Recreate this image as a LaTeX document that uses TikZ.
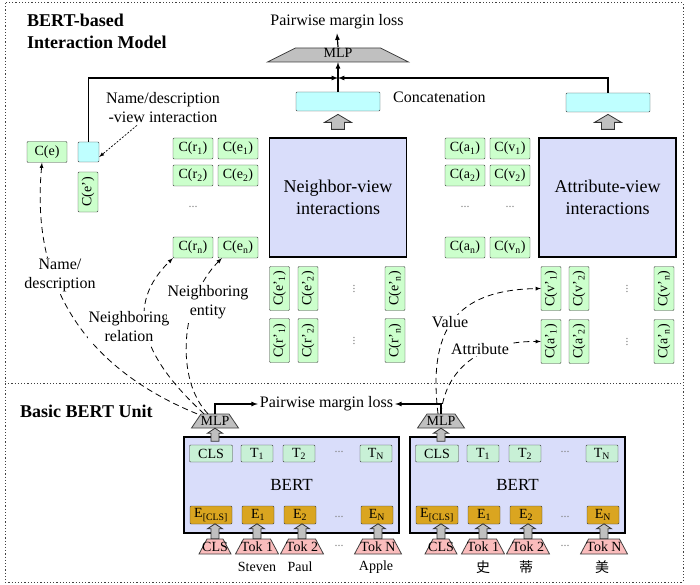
\documentclass[tikz,border=0pt]{standalone}
\usepackage{fontspec}
\setmainfont{Liberation Serif}
\newfontfamily\cjk{Noto Sans CJK SC}
\usetikzlibrary{shapes.geometric}
\definecolor{grn}{RGB}{204,255,204}
\definecolor{mint}{RGB}{200,240,214}
\definecolor{cyn}{RGB}{191,255,255}
\definecolor{lav}{RGB}{217,221,250}
\definecolor{gld}{RGB}{218,165,32}
\definecolor{pnk}{RGB}{250,188,188}
\definecolor{mgray}{RGB}{192,192,192}
% trapezoid: x, y, half top, half bottom, half height, style
\newcommand{\trapez}[6]{\filldraw[#6] ({#1-#4},{#2+#5}) -- ({#1-#3},{#2-#5}) -- ({#1+#3},{#2-#5}) -- ({#1+#4},{#2+#5}) -- cycle;}
% block arrow upwards: base, length, half shaft, half head, head length
\newcommand{\blkup}[5]{\filldraw[draw=black!80, fill=mgray, line width=0.8pt] (#1) ++(-#3,0) -- ++(0,{-(#2-#5)}) -- ++({-(#4-#3)},0) -- ++(#4,-#5) -- ++(#4,#5) -- ++({-(#4-#3)},0) -- ++(0,{#2-#5}) -- cycle;}

\begin{document}
\begin{tikzpicture}[x=1pt,y=-1pt,>=latex]
	\tikzstyle{every node}=[font=\fontsize{16}{19}\selectfont, inner sep=0pt]
	\tikzstyle{frame}=[black!75, line width=1pt, dash pattern=on 1.2pt off 2pt]
	\tikzstyle{conn}=[line width=1.2pt]
	\tikzstyle{dsh}=[->, line width=0.8pt, dash pattern=on 6pt off 4pt]
	\tikzstyle{lbl}=[fill=white, align=center, inner sep=1pt]
	\tikzstyle{ttl}=[font=\fontsize{18}{22}\selectfont\bfseries, align=left]
	\tikzstyle{small}=[font=\fontsize{14}{16}\selectfont]
	\tikzstyle{gbox}=[small, draw=black!75, fill=grn, rounded corners=1pt, minimum width=40, minimum height=21]
	\tikzstyle{rbox}=[gbox, rotate=90, minimum width=44, minimum height=20]
	\tikzstyle{catbox}=[draw=black!75, fill=cyn, rounded corners=1pt, minimum width=84, minimum height=19]
	\tikzstyle{bigbox}=[draw, line width=1.2pt, fill=lav, minimum width=137, minimum height=119, align=center, font=\fontsize{18}{22}\selectfont]
	\tikzstyle{dots}=[font=\fontsize{12}{12}\selectfont, text=black!50]
	\tikzstyle{mlpfill}=[draw=black!75, fill=mgray, line width=0.8pt]
	\tikzstyle{tokfill}=[draw=black!75, fill=pnk, line width=0.8pt]
	\tikzstyle{tbox}=[small, draw=black!75, fill=mint, rounded corners=1pt, minimum height=17, minimum width=32]
	\tikzstyle{ebox}=[tbox, fill=gld, minimum height=18]
	\tikzstyle{bertbox}=[draw, line width=1.2pt, fill=lav, minimum width=215, minimum height=96, font=\fontsize{17}{20}\selectfont]

	\useasboundingbox (0,0) rectangle (700,585);
	\draw[frame] (5,3) rectangle (683,582);
	\draw[frame] (5,383) -- (683,383);

	\node[ttl, anchor=north west] (ttop) at (27,14) {BERT-based\\Interaction Model};
	\node[ttl, anchor=west] (tbot) at (20,411) {Basic BERT Unit};

	% interaction model
	\trapez{338}{55}{42.5}{70.5}{7}{mlpfill}
	\node[small, minimum width=85, minimum height=14] (mlp) at (338,53) {MLP};
	\node[inner xsep=2pt, inner ysep=4pt] (loss) at (337,22) {Pairwise margin loss};
	\draw[conn,->] ([yshift=-1pt]mlp.north) -- (loss.south);

	\node[catbox] (ncat) at (338,101.5) {};
	\node[catbox] (acat) at (608,102.5) {};
	\node[anchor=west] (cattxt) at (393,97) {Concatenation};
	\coordinate (mid) at (338,78);
	\draw[conn,->] (ncat.north) -- ([yshift=-2pt]mlp.south);

	\node[gbox] (ce) at (47,152) {C(e)};
	\node[catbox, minimum width=21, minimum height=20] (dsq) at (88.5,152) {};
	\node[gbox, rotate=90, minimum width=40, minimum height=20] (cep) at (88,192) {C(e')};
	\node[lbl] (ndlab) at (163,108) {Name/description\\-view interaction};
	\draw[->, line width=0.7pt, dash pattern=on 2pt off 1.5pt] ([xshift=-26pt,yshift=-1pt]ndlab.south) -- ([yshift=-5pt]dsq.east);

	\draw[conn,->] (dsq.north) |- (mid);
	\draw[conn,->] (acat.north) |- (mid);

	\node[bigbox] (nview) at (338,197.5) {Neighbor-view\\interactions};
	\node[bigbox] (aview) at (607.5,197.5) {Attribute-view\\interactions};
	\blkup{[yshift=8pt]nview.north}{15}{6.5}{13.5}{8}
	\blkup{[yshift=8pt,xshift=0.5pt]aview.north}{15}{6.5}{13.5}{8}

	\node[gbox] (r1) at (193,148.5) {C(r\textsubscript{1})};
	\node[gbox] (e1) at (238,148.5) {C(e\textsubscript{1})};
	\node[gbox] (r2) at (193,175.5) {C(r\textsubscript{2})};
	\node[gbox] (e2) at (238,175.5) {C(e\textsubscript{2})};
	\node[dots] (ndots) at (193,207) {...};
	\node[gbox] (rn) at (193,247.5) {C(r\textsubscript{n})};
	\node[gbox] (en) at (238,247.5) {C(e\textsubscript{n})};

	\node[gbox] (a1) at (465,148.5) {C(a\textsubscript{1})};
	\node[gbox] (v1) at (510,148.5) {C(v\textsubscript{1})};
	\node[gbox] (a2) at (465,175.5) {C(a\textsubscript{2})};
	\node[gbox] (v2) at (510,175.5) {C(v\textsubscript{2})};
	\node[dots] (adots) at (465,207) {...};
	\node[dots] (vdots) at (510,207) {...};
	\node[gbox] (an) at (465,247.5) {C(a\textsubscript{n})};
	\node[gbox] (vn) at (510,247.5) {C(v\textsubscript{n})};

	\node[rbox] (ep1) at (279.5,288.5) {C(e'\textsubscript{1})};
	\node[rbox] (ep2) at (308,288.5) {C(e'\textsubscript{2})};
	\node[dots, rotate=90] (epdots) at (354,289) {...};
	\node[rbox] (epn) at (395,288.5) {C(e'\textsubscript{n})};
	\node[rbox] (rp1) at (279.5,340.5) {C(r'\textsubscript{1})};
	\node[rbox] (rp2) at (308,340.5) {C(r'\textsubscript{2})};
	\node[dots, rotate=90] (rpdots) at (354,341) {...};
	\node[rbox] (rpn) at (395,340.5) {C(r'\textsubscript{n})};

	\node[rbox] (vp1) at (551,288.5) {C(v'\textsubscript{1})};
	\node[rbox] (vp2) at (579,288.5) {C(v'\textsubscript{2})};
	\node[dots, rotate=90] (vpdots) at (627,289) {...};
	\node[rbox] (vpn) at (664,288.5) {C(v'\textsubscript{n})};
	\node[rbox] (ap1) at (551,341.5) {C(a'\textsubscript{1})};
	\node[rbox] (ap2) at (579,341.5) {C(a'\textsubscript{2})};
	\node[dots, rotate=90] (apdots) at (627,342) {...};
	\node[rbox] (apn) at (664,341.5) {C(a'\textsubscript{n})};

	% basic BERT units
	\foreach \u/\x/\wa/\wb/\wc in {l/184/Steven/Paul/Apple, r/410/{\cjk 史}/{\cjk 蒂}/{\cjk 美}}{
		\node[bertbox] (bert\u) at (\x+107.5,485) {BERT};
		\node[tbox, minimum width=43] (cls\u) at (\x+27,453.5) {CLS};
		\node[tbox] (ta\u) at (\x+73,453.5) {T\textsubscript{1}};
		\node[tbox] (tb\u) at (\x+115,453.5) {T\textsubscript{2}};
		\node[dots] (td\u) at (\x+155,452) {...};
		\node[tbox] (tn\u) at (\x+192,453.5) {T\textsubscript{N}};
		\node[ebox, minimum width=42] (ecls\u) at (\x+27,515) {E\textsubscript{[CLS]}};
		\node[ebox] (ea\u) at (\x+74,515) {E\textsubscript{1}};
		\node[ebox] (eb\u) at (\x+116,515) {E\textsubscript{2}};
		\node[dots] (ed\u) at (\x+155,517) {...};
		\node[ebox] (en\u) at (\x+193,515) {E\textsubscript{N}};
		\trapez{\x+31}{546.5}{8}{16}{7.5}{tokfill}
		\trapez{\x+73}{546.5}{13.5}{21.5}{7.5}{tokfill}
		\trapez{\x+118}{546.5}{13.5}{21.5}{7.5}{tokfill}
		\trapez{\x+194}{546.5}{15.5}{23.5}{7.5}{tokfill}
		\node[small, minimum width=32, minimum height=15] (kcls\u) at (\x+31,546.5) {CLS};
		\node[small, minimum width=43, minimum height=15] (ka\u) at (\x+73,546.5) {Tok 1};
		\node[small, minimum width=43, minimum height=15] (kb\u) at (\x+118,546.5) {Tok 2};
		\node[dots] (kd\u) at (\x+155,546) {...};
		\node[small, minimum width=47, minimum height=15] (kn\u) at (\x+194,546.5) {Tok N};
		\blkup{kcls\u.north}{15}{4}{7.5}{5}
		\blkup{ka\u.north}{15}{4}{7.5}{5}
		\blkup{kb\u.north}{15}{4}{7.5}{5}
		\blkup{kn\u.north}{15}{4}{7.5}{5}
		\node[small] (wa\u) at (\x+73,567) {\wa};
		\node[small] (wb\u) at (\x+116,567) {\wb};
		\node[small] (wc\u) at (\x+192,567) {\wc};
		\trapez{\x+31}{421}{14}{23.5}{7}{mlpfill}
		\node[small, minimum width=28, minimum height=14] (mlp\u) at (\x+31,421) {MLP};
		\blkup{[yshift=-13pt]mlp\u.south}{13}{4}{7.5}{5}
	}
	\node[inner xsep=2pt] (loss2) at (326.5,404) {Pairwise margin loss};
	\draw[conn,->] (mlpl.north) |- (loss2.west);
	\draw[conn,->] (mlpr.north) |- (loss2.east);

	% views fed by the units
	\draw[dsh] ([xshift=-18pt]mlpl.north) .. controls (90,370) and (30,290) .. ([xshift=-5pt]ce.south);
	\draw[dsh] ([xshift=-11pt]mlpl.north) .. controls (140,355) and (125,305) .. (rn.south west);
	\draw[dsh] ([xshift=-7pt]mlpl.north) .. controls (175,380) and (180,300) .. ([xshift=4pt]en.south west);
	\draw[dsh] ([xshift=-3pt]mlpr.north) .. controls (428,330) and (455,290) .. (vp1.north);
	\draw[dsh] (mlpr.north) .. controls (445,370) and (480,341) .. (ap1.north);
	\node[lbl] (lname) at (60,275) {Name/\\description};
	\node[lbl] (lrel) at (129,327) {Neighboring\\relation};
	\node[lbl] (lent) at (208,302) {Neighboring\\entity};
	\node[lbl] (lval) at (450,322) {Value};
	\node[lbl] (latt) at (480,349) {Attribute};
\end{tikzpicture}
\end{document}
